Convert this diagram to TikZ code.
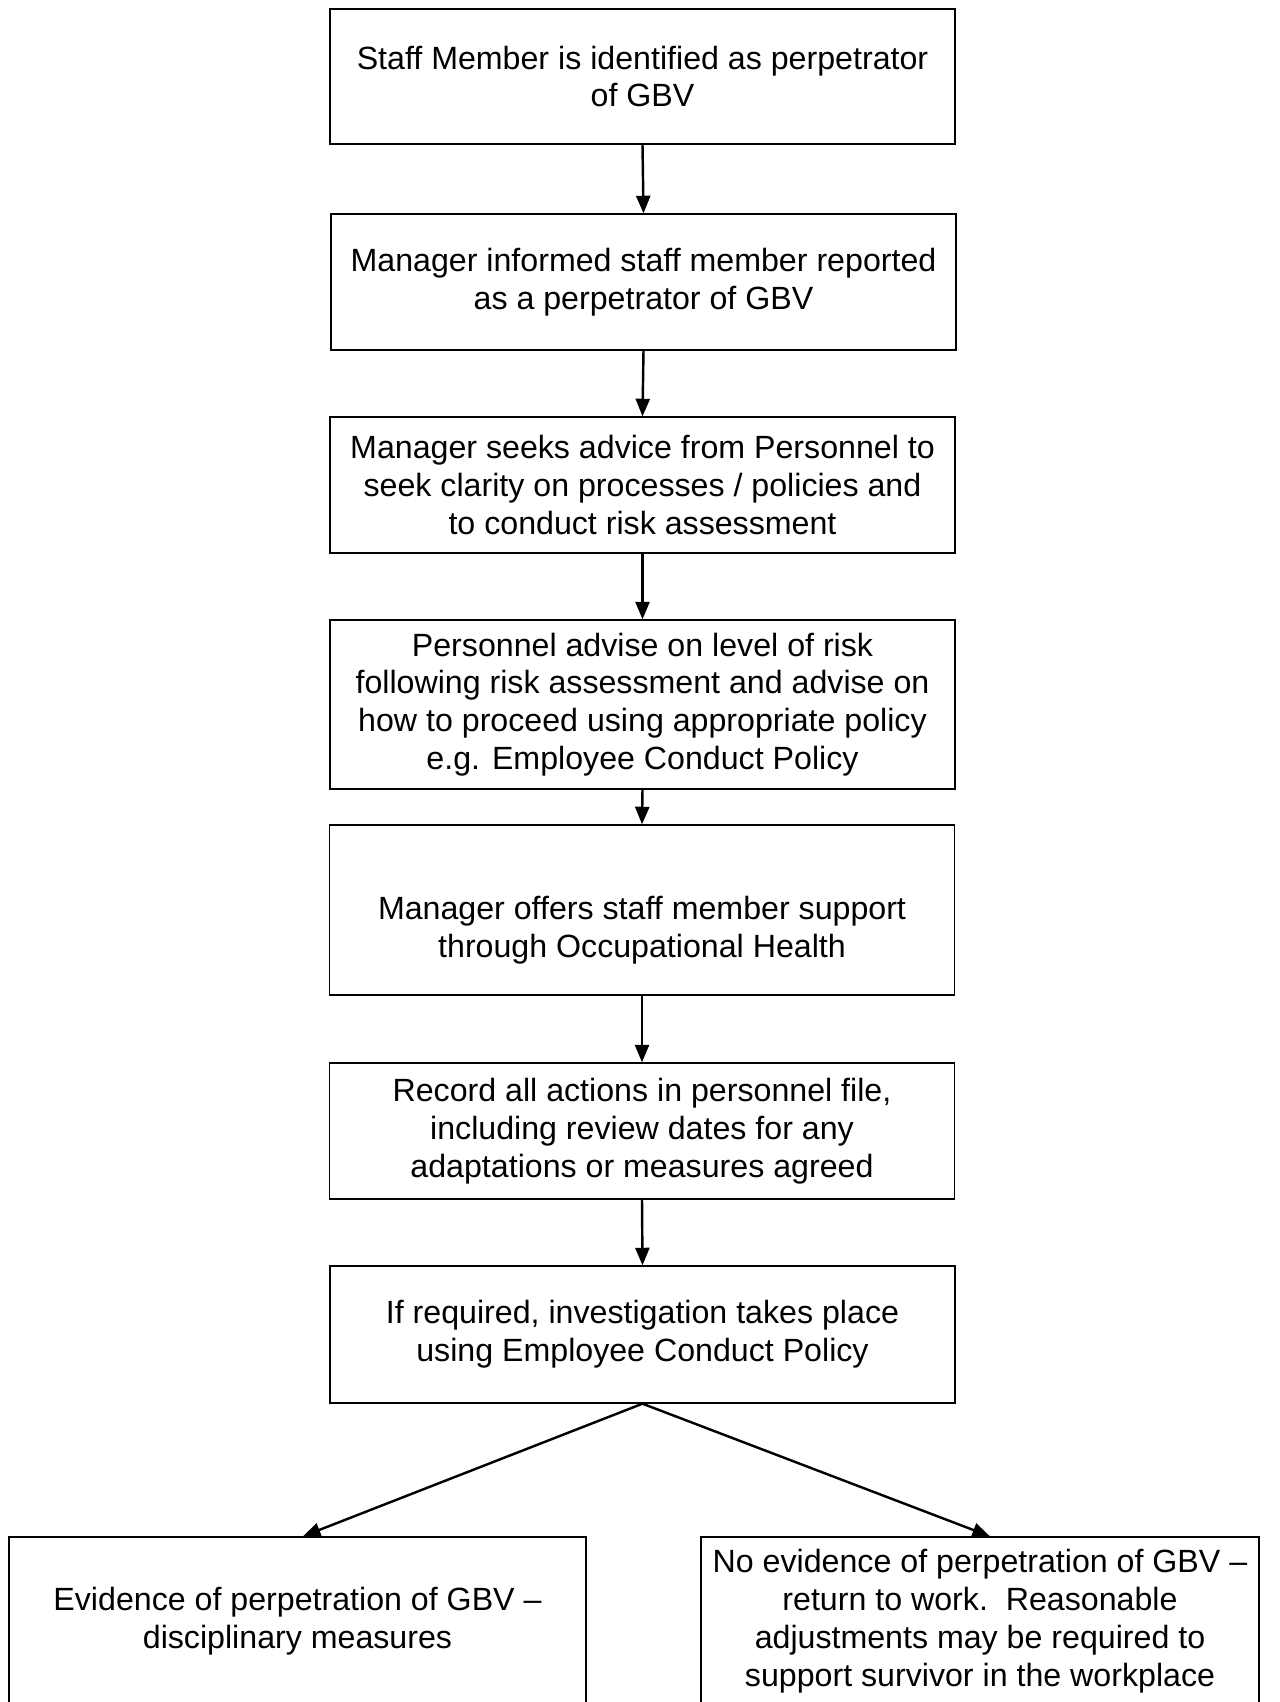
\documentclass[tikz,border=0pt]{standalone}
\usepackage{fontspec}
\setmainfont{Liberation Sans}
\usetikzlibrary{arrows.meta}

\begin{document}
\begin{tikzpicture}[x=0.37pt,y=-0.37pt,>={Triangle[length=6.5pt,width=5.2pt]},
  every node/.style={font=\fontsize{11.9}{14}\selectfont,align=center},
  flowbox/.style={draw,line width=0.5pt,inner sep=0pt,minimum width=625*0.37pt,minimum height=136*0.37pt},
  flowarrow/.style={->,line width=0.9pt}]
\useasboundingbox (0,0) rectangle (1279,1702);
\node[flowbox,minimum height=135*0.37pt] (b1) at (642.5,76.5){Staff Member is identified as perpetrator\\of GBV};
\node[flowbox] (b2) at (643.5,282){Manager informed staff member reported\\as a perpetrator of GBV};
\node[flowbox] (b3) at (642.5,485){Manager seeks advice from Personnel to\\seek clarity on processes / policies and\\to conduct risk assessment};
\node[flowbox,minimum height=169*0.37pt] (b4) at (642.5,704.5){Personnel advise on level of risk\\following risk assessment and advise on\\how to proceed using appropriate policy\\e.g. Employee Conduct Policy};
\node[flowbox,minimum height=170*0.37pt] (b5) at (642,910){\strut\\Manager offers staff member support\\through Occupational Health};
\node[flowbox] (b6) at (642,1131){Record all actions in personnel file,\\including review dates for any\\adaptations or measures agreed};
\node[flowbox,minimum height=137*0.37pt] (b7) at (642.5,1334.5){If required, investigation takes place\\using Employee Conduct Policy};
\node[flowbox,minimum width=577*0.37pt,minimum height=168*0.37pt] (b8) at (297.5,1621){Evidence of perpetration of GBV --\\disciplinary measures};
\node[flowbox,minimum width=558*0.37pt,minimum height=168*0.37pt] (b9) at (980,1621){No evidence of perpetration of GBV --\\return to work.\ \ Reasonable\\adjustments may be required to\\support survivor in the workplace};
\foreach \a/\b in {b1/b2,b2/b3,b3/b4,b4/b5,b5/b6,b6/b7}
  \draw[flowarrow] (\a.south)--(\b.north);
\draw[flowarrow] (b7.south)--([xshift=2pt]b8.north);
\draw[flowarrow] (b7.south)--([xshift=3.7pt]b9.north);
\end{tikzpicture}
\end{document}
